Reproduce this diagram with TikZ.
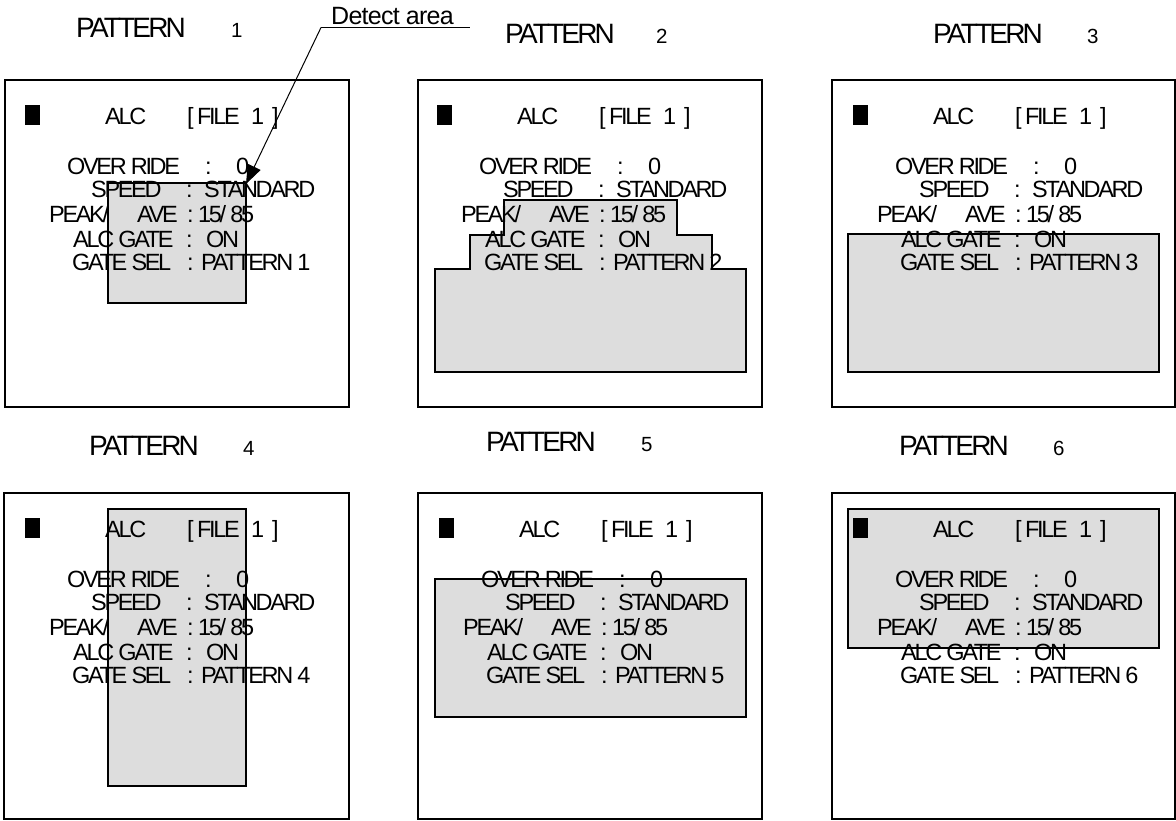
\documentclass[tikz,border=0pt]{standalone}
\usepackage{fontspec}
\setmainfont{Liberation Sans}
\newfontfamily\condf{Liberation Sans}[LetterSpace=-10]
\newfontfamily\detf{Liberation Sans}[LetterSpace=-3]
\usetikzlibrary{arrows.meta}
\definecolor{areagray}{RGB}{221,221,221}
\tikzset{
  bt/.style={anchor=base west, inner sep=0pt, font=\fontsize{23.5}{26}\condf},
  ttl/.style={anchor=base west, inner sep=0pt, font=\fontsize{28}{30}\condf},
  dig/.style={anchor=base west, inner sep=0pt, font=\fontsize{20.5}{22}\selectfont},
  screen/.style={draw=black, line width=1.5pt, fill=white},
  area/.style={draw=black, line width=1.2pt, fill=areagray},
  lead/.style={draw=black, line width=1pt}
}
\newcommand\alcscreen[4]{%
\begin{scope}[shift={(#2,#3)}]
\fill[black] (25,105) rectangle (40,125);
\node[bt] (#1alc) at (105,124) {ALC};
\node[bt] (#1lb) at (187,124) {[};
\node[bt] (#1file) at (197,124) {FILE};
\node[bt] (#1one) at (251,124) {1};
\node[bt] (#1rb) at (272,124) {]};
\node[bt] (#1ovr) at (67,174) {OVER RIDE};
\node[bt] (#1ovrc) at (205,174) {:};
\node[bt] (#1ovrv) at (236,174) {0};
\node[bt] (#1spd) at (91,197) {SPEED};
\node[bt] (#1spdc) at (186,197) {:};
\node[bt] (#1spdv) at (204,197) {STANDARD};
\node[bt] (#1pk) at (49,222) {PEAK/};
\node[bt] (#1ave) at (137,222) {AVE};
\node[bt] (#1avec) at (187,222) {:};
\node[bt] (#1avev) at (198,222) {15/ 85};
\node[bt] (#1gate) at (73,247) {ALC GATE};
\node[bt] (#1gatec) at (186,247) {:};
\node[bt] (#1gatev) at (206,247) {ON};
\node[bt] (#1sel) at (72,270) {GATE SEL};
\node[bt] (#1selc) at (187,270) {:};
\node[bt] (#1selv) at (201,270) {PATTERN #4};
\end{scope}}
\begin{document}
\begin{tikzpicture}[x=1pt,y=-1pt]
\useasboundingbox[fill=white] (0,0) rectangle (1176,820);
% titles
\node[ttl] (t1) at (76,37) {PATTERN};  \node[dig] (d1) at (231,37) {1};
\node[ttl] (t2) at (505,43) {PATTERN}; \node[dig] (d2) at (656,43) {2};
\node[ttl] (t3) at (933,43) {PATTERN}; \node[dig] (d3) at (1087,43) {3};
\node[ttl] (t4) at (89,455) {PATTERN}; \node[dig] (d4) at (243,455) {4};
\node[ttl] (t5) at (486,451) {PATTERN}; \node[dig] (d5) at (641,451) {5};
\node[ttl] (t6) at (899,455) {PATTERN}; \node[dig] (d6) at (1053,455) {6};
% screens
\draw[screen] (5,80) rectangle (349,407);
\draw[screen] (418,80) rectangle (762,407);
\draw[screen] (832,80) rectangle (1175,407);
\draw[screen] (4,493) rectangle (349,819);
\draw[screen] (418,493) rectangle (762,819);
\draw[screen] (832,493) rectangle (1175,819);
% detect areas
\draw[area] (108,183) rectangle (246,303);
\draw[area] (435,372) -- (435,269) -- (470,269) -- (470,235) -- (504,235) -- (504,200)
  -- (677,200) -- (677,235) -- (712,235) -- (712,269) -- (746,269) -- (746,372) -- cycle;
\draw[area] (848,234) rectangle (1159,372);
\draw[area] (108,509) rectangle (246,786);
\draw[area] (435,579) rectangle (746,717);
\draw[area] (848,509) rectangle (1159,648);
% screen texts
\alcscreen{a}{0}{0}{1}
\alcscreen{b}{412}{0}{2}
\alcscreen{c}{828}{0}{3}
\alcscreen{e}{0}{413}{4}
\alcscreen{f}{414}{413}{5}
\alcscreen{g}{828}{413}{6}
% detect area label
\node[anchor=base west, inner sep=0pt, font=\fontsize{25}{27}\detf] (det) at (331,24) {Detect area};
\coordinate (ul1) at (321,27.5);
\coordinate (ul2) at (470,27.5);
\coordinate (tip) at (246,184);
\draw[lead] (ul1) -- (ul2);
\draw[lead, -{Triangle[length=19pt,width=14pt]}] (ul1) -- (tip);
\end{tikzpicture}
\end{document}
